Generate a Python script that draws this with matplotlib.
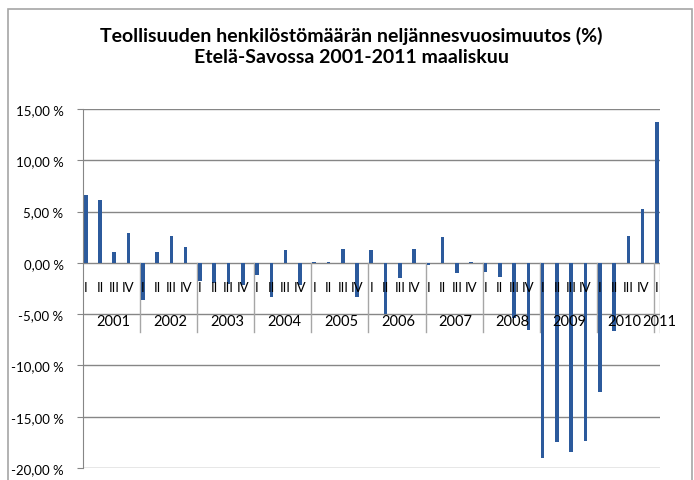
import matplotlib.pyplot as plt
from matplotlib.patches import Rectangle

# quarterly change of industrial personnel, 2001 I .. 2011 I (%)
years = ['2001', '2002', '2003', '2004', '2005', '2006', '2007', '2008', '2009', '2010', '2011']
quarters = ['I', 'II', 'III', 'IV']
values = [6.6, 6.15, 1.07, 2.93,
          -3.58, 1.07, 2.63, 1.56,
          -1.76, -1.95, -2.05, -2.15,
          -1.14, -3.32, 1.27, -2.15,
          0.1, 0.1, 1.37, -3.32,
          1.27, -4.98, -1.46, 1.37,
          -0.16, 2.54, -0.94, 0.1,
          -0.88, -1.37, -5.4, -6.5,
          -19.0, -17.5, -18.4, -17.4,
          -12.55, -6.6, 2.63, 5.27,
          13.76]
yticks = [-20, -15, -10, -5, 0, 5, 10, 15]

plt.rcParams['font.family'] = ['Lato', 'DejaVu Sans']

fig = plt.figure(figsize=(6.94, 4.81), dpi=100)
ax = fig.add_axes([0.1196, 0.0249, 0.8314, 0.7464])

grid_col = '#868686'
for t in yticks:
    ax.axhline(t, color=grid_col, lw=1, zorder=1)

x = list(range(len(values)))
ax.bar(x, values, width=0.25, color='#2C5A9C', zorder=2)

ax.set_xlim(-0.19, 40.22)
ax.set_ylim(-20, 15)
ax.set_yticks(yticks)
ax.set_yticklabels([('%.2f %%' % t).replace('.', ',') for t in yticks], fontsize=9.5)
ax.tick_params(axis='y', length=4, color=grid_col, pad=10)
ax.set_xticks([])
for s in ['top', 'right', 'bottom']:
    ax.spines[s].set_visible(False)
ax.spines['left'].set_color(grid_col)

# quarter labels
for i in x:
    ax.text(i, -2.34, quarters[i % 4], ha='center', va='center', fontsize=9.5, zorder=3)

# year separators and year labels
bounds = [4 * k - 0.2 for k in range(1, 11)] + [40.22]
for b in bounds:
    ax.plot([b, b], [0, -6.7], color='#A6A6A6', lw=1, zorder=1)
starts = [-0.19] + bounds[:-1]
for k, yr in enumerate(years[:-2]):
    ax.text((starts[k] + bounds[k]) / 2 + 0.1, -5.66, yr, ha='center', va='center',
            fontsize=10.5, zorder=3)
# last two labels sit right against each other
ax.text(38.93, -5.66, years[-2], ha='right', va='center', fontsize=10.5, zorder=3)
ax.text(39.0, -5.66, years[-1], ha='left', va='center', fontsize=10.5, zorder=3)

fig.text(0.506, 0.903, 'Teollisuuden henkilöstömäärän neljännesvuosimuutos (%)\nEtelä-Savossa 2001-2011 maaliskuu',
         ha='center', va='center', fontsize=14, fontweight='bold', linespacing=1.25)

fig.patches.append(Rectangle((8 / 694, -0.1), 684 / 694, 1.1 - 10 / 481, transform=fig.transFigure,
                             fill=False, edgecolor='#A6A6A6', lw=1.2))

fig.savefig('out.png', dpi=100)
